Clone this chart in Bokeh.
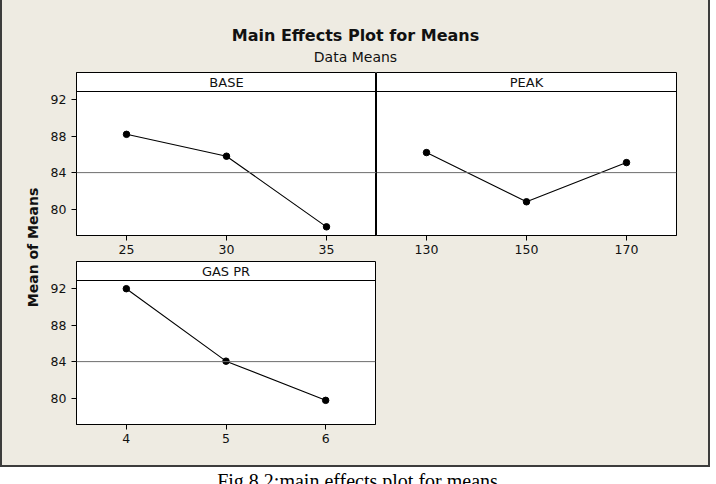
import math

from bokeh.embed import file_html
from bokeh.layouts import column, row
from bokeh.models import FixedTicker, Label, Range1d, Span
from bokeh.plotting import figure
from bokeh.resources import INLINE

# ---- data: mean response at each factor level ----
BASE_LEVELS = [25, 30, 35]
BASE_MEANS = [88.2, 85.8, 78.05]

PEAK_LEVELS = [130, 150, 170]
PEAK_MEANS = [86.2, 80.8, 85.1]

GAS_LEVELS = [4, 5, 6]
GAS_MEANS = [92.0, 84.05, 79.75]

GRAND_MEAN = 84.0
Y_TICKS = [80, 84, 88, 92]
Y_LO, Y_HI = 77.1, 92.9

# ---- styling ----
BEIGE = "#EEEBE2"
EDGE = "#3c3c3c"
FONT = "DejaVu Sans"
TICK_SIZE = "12.5px"
STRIP_PX = 19     # height of the factor name strip above each panel
PLOT_PX = 144     # height of the data area of each panel


def bare(w, h, color, x_range, y_range):
    """A figure without axes or grid, filled with one colour."""
    b = figure(width=w, height=h, min_border=0, toolbar_location=None,
               output_backend="svg", x_axis_location=None, y_axis_location=None,
               x_range=x_range, y_range=y_range,
               styles={"background-color": color})
    b.background_fill_color = color
    b.border_fill_color = color
    b.outline_line_color = None
    b.xgrid.visible = False
    b.ygrid.visible = False
    return b


def block(w, h, color):
    return bare(w, h, color, Range1d(0, 1), Range1d(0, 1))


def panel(name, levels, means, width, height, left, right, top, bottom, show_y):
    step = levels[1] - levels[0]
    x_range = Range1d(levels[0] - step / 2, levels[-1] + step / 2)
    y_end = Y_HI + (Y_HI - Y_LO) * STRIP_PX / PLOT_PX
    p = figure(width=width, height=height, x_range=x_range,
               y_range=Range1d(Y_LO, y_end),
               y_axis_location="left" if show_y else None,
               min_border_left=left, min_border_right=right,
               min_border_top=top, min_border_bottom=bottom,
               toolbar_location=None, output_backend="svg",
               styles={"background-color": BEIGE})
    p.background_fill_color = "white"
    p.border_fill_color = BEIGE
    p.outline_line_color = "black"
    p.outline_line_width = 1
    p.xgrid.visible = False
    p.ygrid.visible = False

    xa = p.xaxis[0]
    xa.ticker = FixedTicker(ticks=levels)
    xa.axis_line_color = "black"
    xa.major_tick_in = 0
    xa.major_tick_out = 5
    xa.minor_tick_line_color = None
    xa.major_label_standoff = 4
    xa.major_label_text_font = FONT
    xa.major_label_text_font_size = TICK_SIZE
    xa.major_label_text_color = "#111111"

    if show_y:
        ya = p.yaxis[0]
        ya.ticker = FixedTicker(ticks=Y_TICKS)
        ya.axis_line_color = "black"
        ya.major_tick_in = 0
        ya.major_tick_out = 5
        ya.minor_tick_line_color = None
        ya.major_label_standoff = 5
        ya.major_label_text_font = FONT
        ya.major_label_text_font_size = TICK_SIZE
        ya.major_label_text_color = "#111111"

    # strip with the factor name
    p.add_layout(Span(location=Y_HI, dimension="width", line_color="black", line_width=1))
    p.add_layout(Label(x=(levels[0] + levels[-1]) / 2, y=(Y_HI + y_end) / 2, text=name,
                       text_align="center", text_baseline="middle",
                       text_font=FONT, text_font_size="13px", text_color="#111111"))

    # grand mean reference
    p.add_layout(Span(location=GRAND_MEAN, dimension="width",
                      line_color="#6e6e6e", line_width=1))

    p.line(levels, means, line_color="black", line_width=1.1)
    p.scatter(levels, means, size=6.5, fill_color="black", line_color="black")
    return p


# ---- title strip ----
title = bare(706, 71, BEIGE, Range1d(0, 706), Range1d(71, 0))
title.add_layout(Label(x=353, y=35, text="Main Effects Plot for Means",
                       text_align="center", text_baseline="alphabetic",
                       text_font=FONT, text_font_style="bold", text_font_size="16px",
                       text_color="#111111"))
title.add_layout(Label(x=353, y=56, text="Data Means",
                       text_align="center", text_baseline="alphabetic",
                       text_font=FONT, text_font_size="14px", text_color="#111111"))

# ---- shared y-axis label ----
ylab = bare(45, 394, BEIGE, Range1d(0, 45), Range1d(394, 0))
ylab.add_layout(Label(x=30, y=176, text="Mean of Means", angle=math.pi / 2,
                      text_align="center", text_baseline="middle",
                      text_font=FONT, text_font_style="bold", text_font_size="14px",
                      text_color="#111111"))

# ---- panels ----
p_base = panel("BASE", BASE_LEVELS, BASE_MEANS, 329, 189, 28, 0, 1, 25, True)
p_peak = panel("PEAK", PEAK_LEVELS, PEAK_MEANS, 332, 189, 0, 32, 1, 25, False)
p_gas = panel("GAS PR", GAS_LEVELS, GAS_MEANS, 329, 205, 28, 1, 1, 41, True)
filler = block(332, 205, BEIGE)

grid = column(row(p_base, p_peak, styles={"background-color": BEIGE}),
              row(p_gas, filler, styles={"background-color": BEIGE}),
              styles={"background-color": BEIGE})
inner = column(title, row(ylab, grid, styles={"background-color": BEIGE}),
               block(706, 2, EDGE), styles={"background-color": BEIGE})
boxed = row(block(2, 467, EDGE), inner, block(2, 467, EDGE), block(6, 467, "white"))

# ---- caption ----
cap = bare(716, 17, "white", Range1d(0, 716), Range1d(17, 0))
cap.add_layout(Label(x=357, y=13, text="Fig 8.2:main effects plot for means",
                     text_align="center", text_baseline="alphabetic",
                     text_font="Liberation Serif", text_font_size="20px",
                     text_color="black"))

layout = column(boxed, cap)

with open("out.html", "w") as f:
    f.write(file_html(layout, INLINE))
